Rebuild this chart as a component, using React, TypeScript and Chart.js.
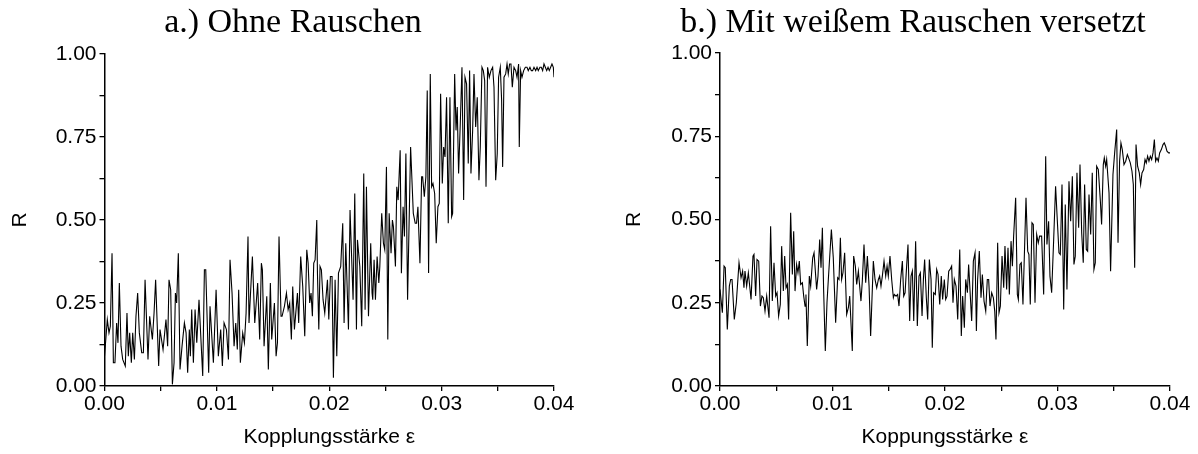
import { useEffect, useRef } from "react";
import { Chart, registerables } from "chart.js";

Chart.register(...registerables);

// ---- data ----
const epsA = [
  0, 0.00025, 0.0004, 0.00052, 0.00067, 0.00079, 0.00093, 0.00108, 0.0012, 0.00132,
  0.00147, 0.00162, 0.00185, 0.002, 0.00212, 0.00224, 0.00239, 0.00251, 0.00266, 0.0028,
  0.00295, 0.0031, 0.00331, 0.00346, 0.00361, 0.00387, 0.00402, 0.00426, 0.00441, 0.00455,
  0.00482, 0.00494, 0.00521, 0.00547, 0.00562, 0.00574, 0.00589, 0.00604, 0.00619, 0.00631,
  0.00642, 0.00657, 0.00672, 0.0069, 0.00711, 0.00726, 0.0074, 0.00755, 0.00764, 0.00776,
  0.00791, 0.00806, 0.00821, 0.00841, 0.00874, 0.00889, 0.00901, 0.00927, 0.00939, 0.00969,
  0.00993, 0.01013, 0.01034, 0.01049, 0.01064, 0.01085, 0.01103, 0.01117, 0.01135, 0.01153,
  0.01168, 0.01182, 0.01194, 0.01209, 0.0123, 0.01245, 0.0126, 0.01277, 0.01286, 0.01316,
  0.01337, 0.01363, 0.01381, 0.01396, 0.01405, 0.0142, 0.01444, 0.01458, 0.01476, 0.01488,
  0.01512, 0.01527, 0.01539, 0.01553, 0.01571, 0.0158, 0.01601, 0.01619, 0.01634, 0.01648,
  0.01663, 0.01675, 0.0169, 0.01717, 0.01728, 0.01746, 0.01764, 0.01782, 0.018, 0.01812,
  0.01826, 0.01838, 0.0185, 0.01862, 0.01874, 0.01889, 0.01895, 0.01907, 0.01918, 0.0193,
  0.01945, 0.0196, 0.01984, 0.01996, 0.0201, 0.02025, 0.02037, 0.02052, 0.02067, 0.02082,
  0.02102, 0.0212, 0.02132, 0.02147, 0.02171, 0.02185, 0.02212, 0.02227, 0.02242, 0.02251,
  0.02272, 0.02289, 0.02307, 0.02319, 0.02331, 0.02349, 0.02369, 0.02381, 0.02387, 0.02399,
  0.02411, 0.02426, 0.02441, 0.0245, 0.02467, 0.02482, 0.02494, 0.02509, 0.02521, 0.02533,
  0.0255, 0.02562, 0.02571, 0.02589, 0.02601, 0.02613, 0.02631, 0.02642, 0.02657, 0.02669,
  0.02682, 0.02697, 0.02724, 0.02748, 0.02765, 0.02777, 0.02789, 0.02807, 0.02822, 0.02831,
  0.02846, 0.0286, 0.02872, 0.02884, 0.02899, 0.02911, 0.02923, 0.02938, 0.02952, 0.02967,
  0.02979, 0.02991, 0.03006, 0.03018, 0.0303, 0.03044, 0.03059, 0.03074, 0.03089, 0.03098,
  0.03116, 0.03128, 0.03139, 0.03151, 0.03166, 0.03181, 0.03196, 0.03208, 0.03222, 0.03237,
  0.03249, 0.03261, 0.03276, 0.03288, 0.03303, 0.03317, 0.03332, 0.03344, 0.03359, 0.03371,
  0.03383, 0.03395, 0.03409, 0.03424, 0.03439, 0.03454, 0.03466, 0.03481, 0.03495, 0.03507,
  0.03522, 0.03534, 0.03543, 0.03555, 0.0357, 0.03582, 0.03593, 0.03605, 0.03617, 0.03629,
  0.03644, 0.03659, 0.03671, 0.03685, 0.03691, 0.03703, 0.03715, 0.0373, 0.03745, 0.0376,
  0.03771, 0.03786, 0.03798, 0.0381, 0.03822, 0.03837, 0.03849, 0.0386, 0.03875, 0.03887,
  0.03899, 0.03911, 0.03923, 0.03935, 0.03947, 0.03958, 0.0397, 0.03982, 0.03994, 0.04,
];
const rA = [
  0.09, 0.2, 0.16, 0.18, 0.4, 0.07, 0.07, 0.19, 0.13, 0.31,
  0.12, 0.08, 0.06, 0.22, 0.09, 0.16, 0.07, 0.16, 0.08, 0.21,
  0.28, 0.16, 0.1, 0.1, 0.32, 0.08, 0.21, 0.14, 0.22, 0.32,
  0.06, 0.17, 0.11, 0.2, 0.12, 0.32, 0.29, 0.005, 0.07, 0.28,
  0.25, 0.4, 0.05, 0.12, 0.19, 0.16, 0.04, 0.17, 0.09, 0.23,
  0.07, 0.23, 0.13, 0.26, 0.03, 0.35, 0.35, 0.04, 0.24, 0.07,
  0.29, 0.09, 0.17, 0.06, 0.19, 0.17, 0.08, 0.38, 0.28, 0.12,
  0.19, 0.11, 0.29, 0.07, 0.16, 0.13, 0.22, 0.45, 0.19, 0.39,
  0.19, 0.31, 0.14, 0.37, 0.35, 0.12, 0.27, 0.05, 0.31, 0.14,
  0.25, 0.09, 0.13, 0.45, 0.21, 0.21, 0.24, 0.28, 0.23, 0.25,
  0.14, 0.3, 0.17, 0.28, 0.19, 0.39, 0.3, 0.15, 0.41, 0.37,
  0.25, 0.28, 0.21, 0.37, 0.38, 0.5, 0.34, 0.17, 0.36, 0.35,
  0.26, 0.22, 0.32, 0.2, 0.33, 0.33, 0.025, 0.32, 0.09, 0.34,
  0.36, 0.49, 0.19, 0.43, 0.17, 0.53, 0.26, 0.58, 0.17, 0.44,
  0.36, 0.18, 0.64, 0.23, 0.6, 0.21, 0.43, 0.28, 0.26, 0.38,
  0.26, 0.39, 0.31, 0.36, 0.52, 0.43, 0.41, 0.66, 0.14, 0.52,
  0.4, 0.5, 0.48, 0.36, 0.6, 0.56, 0.71, 0.34, 0.54, 0.45,
  0.7, 0.26, 0.72, 0.52, 0.49, 0.49, 0.54, 0.37, 0.63, 0.63,
  0.57, 0.63, 0.89, 0.34, 0.94, 0.6, 0.61, 0.58, 0.43, 0.54,
  0.55, 0.88, 0.61, 0.72, 0.69, 0.87, 0.49, 0.87, 0.51, 0.52,
  0.94, 0.77, 0.84, 0.64, 0.79, 0.96, 0.56, 0.93, 0.91, 0.67,
  0.95, 0.64, 0.77, 0.94, 0.78, 0.87, 0.62, 0.72, 0.96, 0.95,
  0.92, 0.6, 0.96, 0.93, 0.95, 0.96, 0.9, 0.62, 0.7, 0.93,
  0.96, 0.86, 0.66, 0.93, 0.94, 0.97, 0.94, 0.97, 0.97, 0.9,
  0.96, 0.95, 0.93, 0.97, 0.72, 0.95, 0.93, 0.95, 0.96, 0.96,
  0.95, 0.96, 0.95, 0.95, 0.96, 0.95, 0.96, 0.95, 0.96, 0.96,
  0.95, 0.97, 0.96, 0.95, 0.96, 0.95, 0.96, 0.97, 0.96, 0.93,
];

const epsB = [
  0, 0.00021, 0.00036, 0.00047, 0.00065, 0.00083, 0.00095, 0.00107, 0.00127, 0.00145,
  0.00169, 0.00187, 0.00201, 0.00213, 0.00222, 0.00237, 0.00252, 0.00276, 0.00293, 0.00302,
  0.00317, 0.00329, 0.00344, 0.00359, 0.00373, 0.00385, 0.004, 0.00415, 0.00436, 0.0045,
  0.00465, 0.0048, 0.00495, 0.00507, 0.00521, 0.00536, 0.00548, 0.00563, 0.00575, 0.00587,
  0.00599, 0.0061, 0.00628, 0.00643, 0.00655, 0.00667, 0.00681, 0.00693, 0.00705, 0.00717,
  0.00732, 0.00744, 0.00756, 0.00764, 0.00776, 0.00794, 0.00806, 0.00824, 0.00836, 0.00859,
  0.00871, 0.00886, 0.00898, 0.0091, 0.00921, 0.00936, 0.00951, 0.00963, 0.0099, 0.01007,
  0.01028, 0.01046, 0.01058, 0.0107, 0.01081, 0.01093, 0.01108, 0.01126, 0.01141, 0.01153,
  0.01176, 0.01188, 0.01203, 0.01215, 0.0123, 0.01253, 0.01265, 0.0128, 0.01295, 0.0131,
  0.01325,
  0.01339, 0.01363, 0.01378, 0.01393, 0.01408, 0.01419, 0.01431, 0.01443, 0.01458, 0.01473,
  0.01485, 0.01496, 0.01511, 0.01526, 0.01541, 0.0155, 0.01565, 0.01579, 0.01591, 0.01606,
  0.01621, 0.01633, 0.01645, 0.01659, 0.01671, 0.01686, 0.01698, 0.0171, 0.01722, 0.01739,
  0.01754, 0.01769, 0.01781, 0.01796, 0.01808, 0.01819, 0.01834, 0.01846, 0.01861, 0.01876,
  0.01887, 0.01899, 0.01914, 0.01926, 0.01938, 0.01953, 0.01967, 0.01979, 0.01994, 0.02006,
  0.02018, 0.02033, 0.02045, 0.02059, 0.02071, 0.02083, 0.02098, 0.02113, 0.02131, 0.02145,
  0.02157, 0.02172, 0.02184, 0.02199, 0.0221, 0.02225, 0.02237, 0.02252, 0.02267, 0.02279,
  0.0229, 0.02305, 0.0232, 0.02332, 0.02347, 0.02362, 0.02376, 0.02388, 0.024, 0.02415,
  0.0243, 0.02442, 0.02453, 0.02468, 0.0248, 0.02492, 0.02507, 0.02522, 0.02533, 0.02548,
  0.0256, 0.02572, 0.02587, 0.02599, 0.0261, 0.02628, 0.02643,
  0.02652, 0.02666, 0.02678, 0.02693, 0.0272, 0.02735, 0.02746, 0.02758, 0.02773, 0.02785,
  0.028, 0.02815, 0.02829, 0.02841, 0.02859, 0.02877, 0.02895, 0.02906, 0.02921, 0.02933,
  0.02948, 0.02966, 0.02983, 0.03001, 0.03013, 0.03025, 0.0304, 0.03055, 0.03069, 0.03084,
  0.03102, 0.03117, 0.03132, 0.03146, 0.03158, 0.03173, 0.03188, 0.032, 0.03215, 0.03229,
  0.03241, 0.03256, 0.03268, 0.0328, 0.03295, 0.03309, 0.03324, 0.03336, 0.03348, 0.03363,
  0.03381, 0.03392, 0.03407, 0.03416, 0.03428, 0.03437, 0.03458, 0.03472, 0.03493, 0.03508,
  0.03526, 0.03538, 0.03552, 0.03564, 0.03576, 0.03591, 0.03606, 0.03621, 0.03632, 0.03647,
  0.03662, 0.03674, 0.03686, 0.03698, 0.03712, 0.03727, 0.03739, 0.03751, 0.03766, 0.03778,
  0.03789, 0.03801, 0.03813, 0.03825, 0.03837, 0.03849, 0.03861, 0.03872, 0.03884, 0.03896,
  0.03908, 0.03923, 0.03938, 0.03949, 0.03961, 0.03973, 0.03988, 0.04,
];
const rB = [
  0.29, 0.22, 0.36, 0.355, 0.17, 0.3, 0.32, 0.32, 0.2, 0.25,
  0.37, 0.325, 0.345, 0.295, 0.345, 0.3, 0.34, 0.26, 0.39, 0.395,
  0.27, 0.38, 0.375, 0.24, 0.27, 0.265, 0.225, 0.27, 0.205, 0.48,
  0.255, 0.37, 0.27, 0.28, 0.21, 0.245, 0.42, 0.285, 0.39, 0.295,
  0.305, 0.2, 0.52, 0.335, 0.465, 0.285, 0.365, 0.34, 0.375, 0.305,
  0.31, 0.27, 0.24, 0.275, 0.12, 0.33, 0.3, 0.385, 0.4, 0.29,
  0.33, 0.44, 0.355, 0.475, 0.29, 0.105, 0.25, 0.32, 0.47, 0.385,
  0.19, 0.325, 0.32, 0.445, 0.32, 0.34, 0.4, 0.215, 0.235, 0.27,
  0.105, 0.39, 0.36, 0.305, 0.345, 0.255, 0.315, 0.425, 0.31, 0.39,
  0.3,
  0.15, 0.375, 0.32, 0.295, 0.32, 0.33, 0.3, 0.33, 0.375, 0.33,
  0.36, 0.33, 0.39, 0.32, 0.265, 0.275, 0.27, 0.275, 0.24, 0.32,
  0.375, 0.27, 0.28, 0.36, 0.425, 0.195, 0.33, 0.345, 0.195, 0.435,
  0.18, 0.33, 0.34, 0.21, 0.32, 0.38, 0.265, 0.2, 0.38, 0.32,
  0.115, 0.28, 0.275, 0.35, 0.335, 0.245, 0.33, 0.26, 0.32, 0.26,
  0.27, 0.345, 0.35, 0.36, 0.25, 0.32, 0.3, 0.2, 0.41, 0.15,
  0.27, 0.175, 0.32, 0.28, 0.365, 0.27, 0.195, 0.375, 0.4, 0.165,
  0.32, 0.405, 0.265, 0.335, 0.255, 0.225, 0.32, 0.32, 0.24, 0.28,
  0.265, 0.225, 0.14, 0.43, 0.22, 0.24, 0.39, 0.295, 0.42, 0.29,
  0.415, 0.275, 0.435, 0.36, 0.45, 0.565, 0.275,
  0.26, 0.365, 0.37, 0.245, 0.565, 0.405, 0.395, 0.245, 0.49, 0.485,
  0.25, 0.455, 0.43, 0.45, 0.45, 0.275, 0.69, 0.425, 0.495, 0.33,
  0.28, 0.44, 0.6, 0.48, 0.4, 0.395, 0.605, 0.23, 0.545, 0.29,
  0.615, 0.495, 0.63, 0.365, 0.39, 0.64, 0.475, 0.665, 0.46, 0.37,
  0.605, 0.41, 0.405, 0.575, 0.455, 0.64, 0.35, 0.37, 0.66, 0.65,
  0.555, 0.485, 0.665, 0.685, 0.66, 0.68, 0.58, 0.345, 0.635, 0.7,
  0.77, 0.43, 0.675, 0.73, 0.71, 0.665, 0.675, 0.695, 0.685, 0.67,
  0.645, 0.605, 0.355, 0.725, 0.66, 0.64, 0.605, 0.64, 0.65, 0.68,
  0.67, 0.69, 0.675, 0.69, 0.68, 0.7, 0.74, 0.675, 0.685, 0.675,
  0.7, 0.71, 0.725, 0.73, 0.72, 0.705, 0.7, 0.7,
];

const xTickValues = [0, 0.005, 0.01, 0.015, 0.02, 0.025, 0.03, 0.035, 0.04];
const xTickLabels = [0, 0.01, 0.02, 0.03, 0.04];
const yTickValues = [0, 0.125, 0.25, 0.375, 0.5, 0.625, 0.75, 0.875, 1];
const yTickLabels = [0, 0.25, 0.5, 0.75, 1];

const titleA = "a.) Ohne Rauschen";
const titleB = "b.) Mit weißem Rauschen versetzt";
const xTitleA = "Kopplungsstärke ε";
const xTitleB = "Koppungsstärke ε";
const yTitle = "R";

const SANS = "'Liberation Sans', Arial, sans-serif";
const SERIF = "'Liberation Serif', 'Times New Roman', serif";

const panelTitlePlugin = {
  id: "panelTitle",
  afterDraw(chart: any, _args: any, opts: any) {
    if (!opts || !opts.text) return;
    const ctx = chart.ctx;
    ctx.save();
    ctx.font = opts.font;
    ctx.fillStyle = "#000";
    ctx.textAlign = "center";
    ctx.textBaseline = "alphabetic";
    ctx.fillText(opts.text, opts.x, opts.y);
    ctx.restore();
  },
};

type PanelProps = {
  eps: number[];
  r: number[];
  title: string;
  xTitle: string;
  left: number;
  width: number;
  padLeft: number;
  padRight: number;
  padTop: number;
  yWidth: number;
  titleX: number;
};

function Panel(p: PanelProps) {
  const ref = useRef<HTMLCanvasElement | null>(null);
  useEffect(() => {
    if (!ref.current) return;
    const n = Math.min(p.eps.length, p.r.length);
    const pts = [];
    for (let i = 0; i < n; i++) pts.push({ x: p.eps[i], y: p.r[i] });
    const tickFont = { family: SANS, size: 21 };
    const chart = new Chart(ref.current, {
      type: "line",
      data: {
        datasets: [
          {
            data: pts,
            borderColor: "#000",
            borderWidth: 1.1,
            pointRadius: 0,
            tension: 0,
            fill: false,
          },
        ],
      },
      options: {
        responsive: false,
        animation: false,
        events: [],
        layout: { padding: { left: p.padLeft, right: p.padRight, top: p.padTop, bottom: 0 } },
        plugins: {
          legend: { display: false },
          tooltip: { enabled: false },
          title: { display: false },
          panelTitle: { text: p.title, x: p.titleX, y: 32, font: `34px ${SERIF}` },
        } as any,
        scales: {
          x: {
            type: "linear",
            min: 0,
            max: 0.04,
            afterBuildTicks: (s: any) => {
              s.ticks = xTickValues.map((v) => ({ value: v }));
            },
            afterFit: (s: any) => {
              s.height = 68;
            },
            ticks: {
              autoSkip: false,
              maxRotation: 0,
              color: "#000",
              font: tickFont,
              padding: 1,
              callback: (v: any) => (xTickLabels.includes(Number(v)) ? Number(v).toFixed(2) : ""),
            },
            grid: { drawOnChartArea: false, drawTicks: true, tickLength: 5, color: "#000", lineWidth: 1.3 },
            border: { display: true, color: "#000", width: 1.5 },
            title: {
              display: true,
              text: p.xTitle,
              color: "#000",
              font: tickFont,
              padding: { top: 0, bottom: 4 },
            },
          },
          y: {
            type: "linear",
            min: 0,
            max: 1,
            afterBuildTicks: (s: any) => {
              s.ticks = yTickValues.map((v) => ({ value: v }));
            },
            afterFit: (s: any) => {
              s.width = p.yWidth;
            },
            ticks: {
              autoSkip: false,
              color: "#000",
              font: tickFont,
              padding: 3,
              callback: (v: any) => (yTickLabels.includes(Number(v)) ? Number(v).toFixed(2) : ""),
            },
            grid: { drawOnChartArea: false, drawTicks: true, tickLength: 5, color: "#000", lineWidth: 1.3 },
            border: { display: true, color: "#000", width: 1.5 },
            title: {
              display: true,
              text: yTitle,
              color: "#000",
              font: tickFont,
              padding: { top: 0, bottom: 0 },
            },
          },
        },
      },
      plugins: [panelTitlePlugin],
    } as any);
    return () => chart.destroy();
  }, []);
  return (
    <canvas
      ref={ref}
      width={p.width}
      height={454}
      style={{ position: "absolute", left: p.left, top: 0, width: p.width, height: 454 }}
    />
  );
}

export default function App() {
  return (
    <div style={{ position: "absolute", left: 0, top: 0, width: 1198, height: 454, background: "#fff" }}>
      <Panel
        eps={epsA}
        r={rA}
        title={titleA}
        xTitle={xTitleA}
        left={0}
        width={599}
        padLeft={8}
        padRight={45}
        padTop={54}
        yWidth={96.5}
        titleX={293}
      />
      <Panel
        eps={epsB}
        r={rB}
        title={titleB}
        xTitle={xTitleB}
        left={599}
        width={599}
        padLeft={23}
        padRight={28}
        padTop={53}
        yWidth={98}
        titleX={314}
      />
    </div>
  );
}
